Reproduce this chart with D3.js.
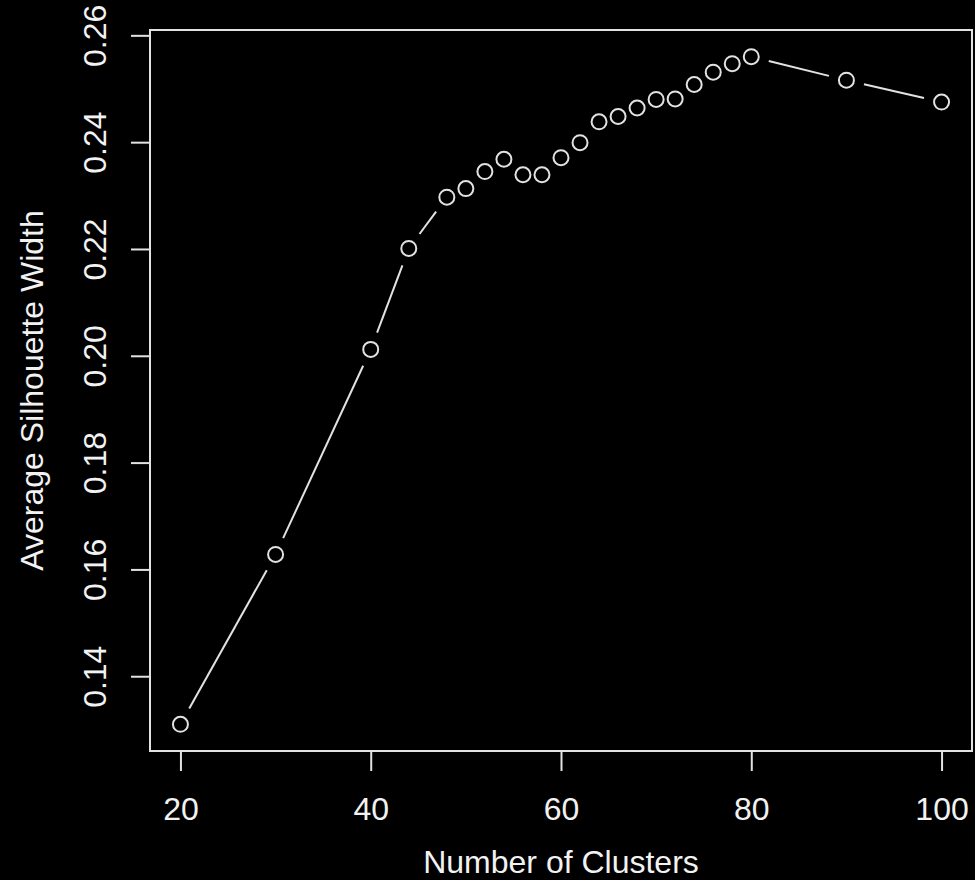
<!DOCTYPE html>
<html>
<head>
<meta charset="utf-8">
<script src="https://cdn.jsdelivr.net/npm/d3@7"></script>
<style>
  html, body { margin: 0; padding: 0; background: #000; }
  svg { display: block; }
</style>
</head>
<body>
<div id="chart"></div>
<script>
  // Cluster count vs average silhouette width
  var clusters = [20, 30, 40, 44, 48, 50, 52, 54, 56, 58, 60, 62, 64, 66, 68, 70, 72, 74, 76, 78, 80, 90, 100];
  var silhouette = [0.1310, 0.1628, 0.2012, 0.2201, 0.2297, 0.2313, 0.2345, 0.2368, 0.2339, 0.2339,
    0.2371, 0.2399, 0.2438, 0.2448, 0.2464, 0.2480, 0.2481, 0.2508, 0.2531, 0.2547, 0.2560, 0.2516, 0.2475];
  var xTicks = [20, 40, 60, 80, 100];
  var yTicks = [0.14, 0.16, 0.18, 0.20, 0.22, 0.24, 0.26];
  var xTitle = 'Number of Clusters';
  var yTitle = 'Average Silhouette Width';

  var W = 975, H = 880;
  var box = { left: 150, right: 972, top: 30, bottom: 751 };
  var ink = '#e2e2e2';
  var textInk = '#f2f2f2';
  var font = '"Liberation Sans", Arial, Helvetica, sans-serif';
  var fontSize = 32;

  // R-style 4% axis extension
  function pad(ext) {
    var d = (ext[1] - ext[0]) * 0.04;
    return [ext[0] - d, ext[1] + d];
  }

  var x = d3.scaleLinear().domain(pad(d3.extent(clusters))).range([box.left, box.right]);
  var y = d3.scaleLinear().domain(pad(d3.extent(silhouette))).range([box.bottom, box.top]);

  var svg = d3.select('#chart').append('svg')
    .attr('width', W)
    .attr('height', H)
    .style('background', '#000');

  // plot frame
  svg.append('rect')
    .attr('x', box.left)
    .attr('y', box.top)
    .attr('width', box.right - box.left)
    .attr('height', box.bottom - box.top)
    .attr('fill', 'none')
    .attr('stroke', ink)
    .attr('stroke-width', 2);

  // x axis
  var xAxis = svg.append('g')
    .attr('transform', 'translate(0,' + box.bottom + ')')
    .call(d3.axisBottom(x).tickValues(xTicks).tickSize(20).tickPadding(26).tickFormat(d3.format('d')));
  xAxis.select('.domain').attr('d', 'M' + x(xTicks[0]) + ',0H' + x(xTicks[xTicks.length - 1]))
    .attr('stroke', ink).attr('stroke-width', 2);
  xAxis.selectAll('.tick line').attr('stroke', ink).attr('stroke-width', 2);
  xAxis.selectAll('.tick text')
    .attr('fill', textInk)
    .attr('font-family', font)
    .attr('font-size', fontSize);

  // y axis, labels rotated like R's las=0
  var yAxis = svg.append('g')
    .attr('transform', 'translate(' + box.left + ',0)')
    .call(d3.axisLeft(y).tickValues(yTicks).tickSize(19).tickFormat(d3.format('.2f')));
  yAxis.select('.domain').attr('d', 'M0,' + y(yTicks[0]) + 'V' + y(yTicks[yTicks.length - 1]))
    .attr('stroke', ink).attr('stroke-width', 2);
  yAxis.selectAll('.tick line').attr('stroke', ink).attr('stroke-width', 2);
  yAxis.selectAll('.tick text')
    .attr('x', null)
    .attr('dy', null)
    .attr('transform', 'translate(-44,0) rotate(-90)')
    .attr('text-anchor', 'middle')
    .attr('fill', textInk)
    .attr('font-family', font)
    .attr('font-size', fontSize);

  // titles
  svg.append('text')
    .attr('x', (box.left + box.right) / 2)
    .attr('y', 873)
    .attr('text-anchor', 'middle')
    .attr('fill', textInk)
    .attr('font-family', font)
    .attr('font-size', fontSize)
    .text(xTitle);

  svg.append('text')
    .attr('transform', 'translate(43,' + (box.top + box.bottom) / 2 + ') rotate(-90)')
    .attr('text-anchor', 'middle')
    .attr('fill', textInk)
    .attr('font-family', font)
    .attr('font-size', fontSize)
    .text(yTitle);

  // type="b": segments with gaps around the points
  var pts = clusters.map(function (c, i) { return [x(c), y(silhouette[i])]; });
  var gap = 18;
  var segs = [];
  for (var i = 0; i < pts.length - 1; i++) {
    var a = pts[i], b = pts[i + 1];
    var dx = b[0] - a[0], dy = b[1] - a[1];
    var len = Math.sqrt(dx * dx + dy * dy);
    if (len <= 2 * gap) continue;
    var ux = dx / len, uy = dy / len;
    segs.push([a[0] + ux * gap, a[1] + uy * gap, b[0] - ux * gap, b[1] - uy * gap]);
  }

  svg.append('g').selectAll('line')
    .data(segs)
    .join('line')
    .attr('x1', function (d) { return d[0]; })
    .attr('y1', function (d) { return d[1]; })
    .attr('x2', function (d) { return d[2]; })
    .attr('y2', function (d) { return d[3]; })
    .attr('stroke', ink)
    .attr('stroke-width', 2);

  svg.append('g').selectAll('circle')
    .data(clusters)
    .join('circle')
    .attr('cx', function (d) { return x(d); })
    .attr('cy', function (d, i) { return y(silhouette[i]); })
    .attr('r', 7.5)
    .attr('fill', 'none')
    .attr('stroke', ink)
    .attr('stroke-width', 2);
</script>
</body>
</html>
